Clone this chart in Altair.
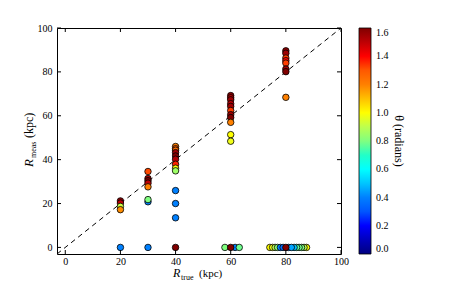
import altair as alt
import pandas as pd

# ---- data ----
lims = [-3, 100]
x_ticks = [0, 20, 40, 60, 80, 100]
y_ticks = [0, 20, 40, 60, 80, 100]
cbar_ticks = [0.0, 0.2, 0.4, 0.6, 0.8, 1.0, 1.2, 1.4, 1.6]
jet_colors = ["#000080", "#0000ff", "#0080ff", "#00ffff", "#80ff80",
              "#ffff00", "#ff8000", "#ff0000", "#800000"]

r_true = [20, 20, 20, 20, 20,
          30, 30, 30, 30, 30, 30, 30, 30,
          40, 40, 40, 40, 40, 40, 40, 40, 40, 40, 40, 40, 40,
          60, 60, 60, 60, 60, 60, 60, 60, 60, 60, 60,
          57.9, 61.6, 63.1, 60,
          80, 80, 80, 80, 80, 80, 80, 80,
          74.2, 75.2, 76.1, 77.0, 87.5, 86.6, 85.7, 84.8, 83.9, 83.0,
          78.0, 79.0, 81.0, 82.0, 80.0]
r_meas = [21.2, 20.2, 18.7, 17.2, 0,
          34.6, 31.4, 30.4, 29.3, 27.6, 20.8, 21.8, 0,
          46.0, 45.0, 44.3, 43.2, 41.7, 40.2, 37.9, 36.1, 34.9, 25.9, 20.0, 13.5, 0,
          69.2, 68.2, 67.3, 65.5, 64.3, 62.4, 60.5, 59.2, 57.0, 51.4, 48.4,
          0, 0, 0, 0,
          89.6, 88.5, 86.3, 85.1, 84.0, 81.3, 80.1, 68.4,
          0, 0, 0, 0, 0, 0, 0, 0, 0, 0,
          0, 0, 0, 0, 0]
theta = [1.58, 1.50, 0.92, 1.18, 0.40,
         1.33, 1.55, 1.60, 1.50, 1.20, 0.40, 0.80, 0.40,
         1.20, 1.30, 1.25, 1.55, 1.60, 1.52, 1.38, 1.00, 0.85, 0.40, 0.40, 0.40, 1.60,
         1.58, 1.50, 1.55, 1.50, 1.55, 1.35, 1.55, 1.60, 1.20, 1.00, 0.98,
         0.80, 0.40, 0.78, 1.60,
         1.58, 1.55, 1.35, 1.40, 1.35, 1.55, 1.60, 1.20,
         1.00, 0.98, 0.90, 0.82, 1.00, 0.90, 0.80, 0.78, 0.76, 0.50,
         0.40, 0.35, 0.38, 0.45, 1.60]

FONT = "Liberation Serif"
W, H = 284, 226

pts = pd.DataFrame({"rt": r_true, "rm": r_meas, "th": theta})
diag = pd.DataFrame({"rt": lims, "rm": lims})
xt = pd.DataFrame({"rt": x_ticks})
yt = pd.DataFrame({"rm": y_ticks})
one = pd.DataFrame({"a": [0]})

xscale = alt.Scale(domain=lims, nice=False, zero=False)
yscale = alt.Scale(domain=lims, nice=False, zero=False)
xaxis = alt.Axis(values=x_ticks, title=None, grid=False, domain=False, tickSize=0,
                 labelFont=FONT, labelFontSize=10, labelColor="black",
                 labelPadding=2, labelFlush=False)
yaxis = alt.Axis(values=y_ticks, title=None, grid=False, domain=False, tickSize=0,
                 labelFont=FONT, labelFontSize=10, labelColor="black",
                 labelPadding=5, labelFlush=False)


def X(f="rt"):
    return alt.X(f"{f}:Q", scale=xscale, axis=xaxis)


def Y(f="rm"):
    return alt.Y(f"{f}:Q", scale=yscale, axis=yaxis)


line = alt.Chart(diag).mark_line(color="black", strokeDash=[5, 4], strokeWidth=1).encode(
    x=X(), y=Y())

points = alt.Chart(pts).mark_point(
    shape="circle", filled=True, size=42, stroke="black", strokeWidth=0.8, opacity=1
).encode(
    x=X(), y=Y(),
    color=alt.Color("th:Q",
                    scale=alt.Scale(domain=cbar_ticks, range=jet_colors),
                    legend=alt.Legend(title=None, values=cbar_ticks, format=".1f",
                                      gradientLength=H, gradientThickness=12,
                                      offset=18, padding=0, orient="right",
                                      direction="vertical",
                                      labelFont=FONT, labelFontSize=10,
                                      labelColor="black", labelOffset=5,
                                      gradientStrokeColor="black",
                                      gradientStrokeWidth=0.8)),
    order=alt.Order("idx:Q")
).transform_window(idx="row_number()")

tick_len = 4
xb = alt.Chart(xt).mark_rule(color="black").encode(x=X(), y=alt.value(H), y2=alt.value(H - tick_len))
xtp = alt.Chart(xt).mark_rule(color="black").encode(x=X(), y=alt.value(0), y2=alt.value(tick_len))
yl = alt.Chart(yt).mark_rule(color="black").encode(y=Y(), x=alt.value(0), x2=alt.value(tick_len))
yr = alt.Chart(yt).mark_rule(color="black").encode(y=Y(), x=alt.value(W), x2=alt.value(W - tick_len))


def txt(s, x, y, size, angle=0, italic=False, align="left", baseline="alphabetic"):
    kw = dict(font=FONT, fontSize=size, color="black", align=align, baseline=baseline)
    if angle:
        kw["angle"] = angle
    if italic:
        kw["fontStyle"] = "italic"
    return alt.Chart(one).mark_text(**kw).encode(
        x=alt.value(x), y=alt.value(y), text=alt.value(s))


titles = [
    # x title: R_true (kpc)
    txt("R", 116, 249, 12, italic=True),
    txt("true", 124, 252, 8),
    txt("(kpc)", 142, 249, 11),
    # y title: R_meas (kpc)
    txt("R", -24, 139, 13, angle=270, italic=True),
    txt("meas", -21, 130, 8, angle=270),
    txt("(kpc)", -24, 110, 12, angle=270),
    # colorbar title
    txt("θ (radians)", 342, H / 2, 12, angle=90, align="center", baseline="middle"),
]

chart = alt.layer(line, points, xb, xtp, yl, yr, *titles).properties(
    width=W, height=H,
    autosize=alt.AutoSizeParams(type="none"),
    padding={"left": 49, "top": 20, "right": 109, "bottom": 27},
).configure_view(stroke="black", strokeWidth=1)

chart.save("out.html", embed_options={"renderer": "svg", "actions": False})
